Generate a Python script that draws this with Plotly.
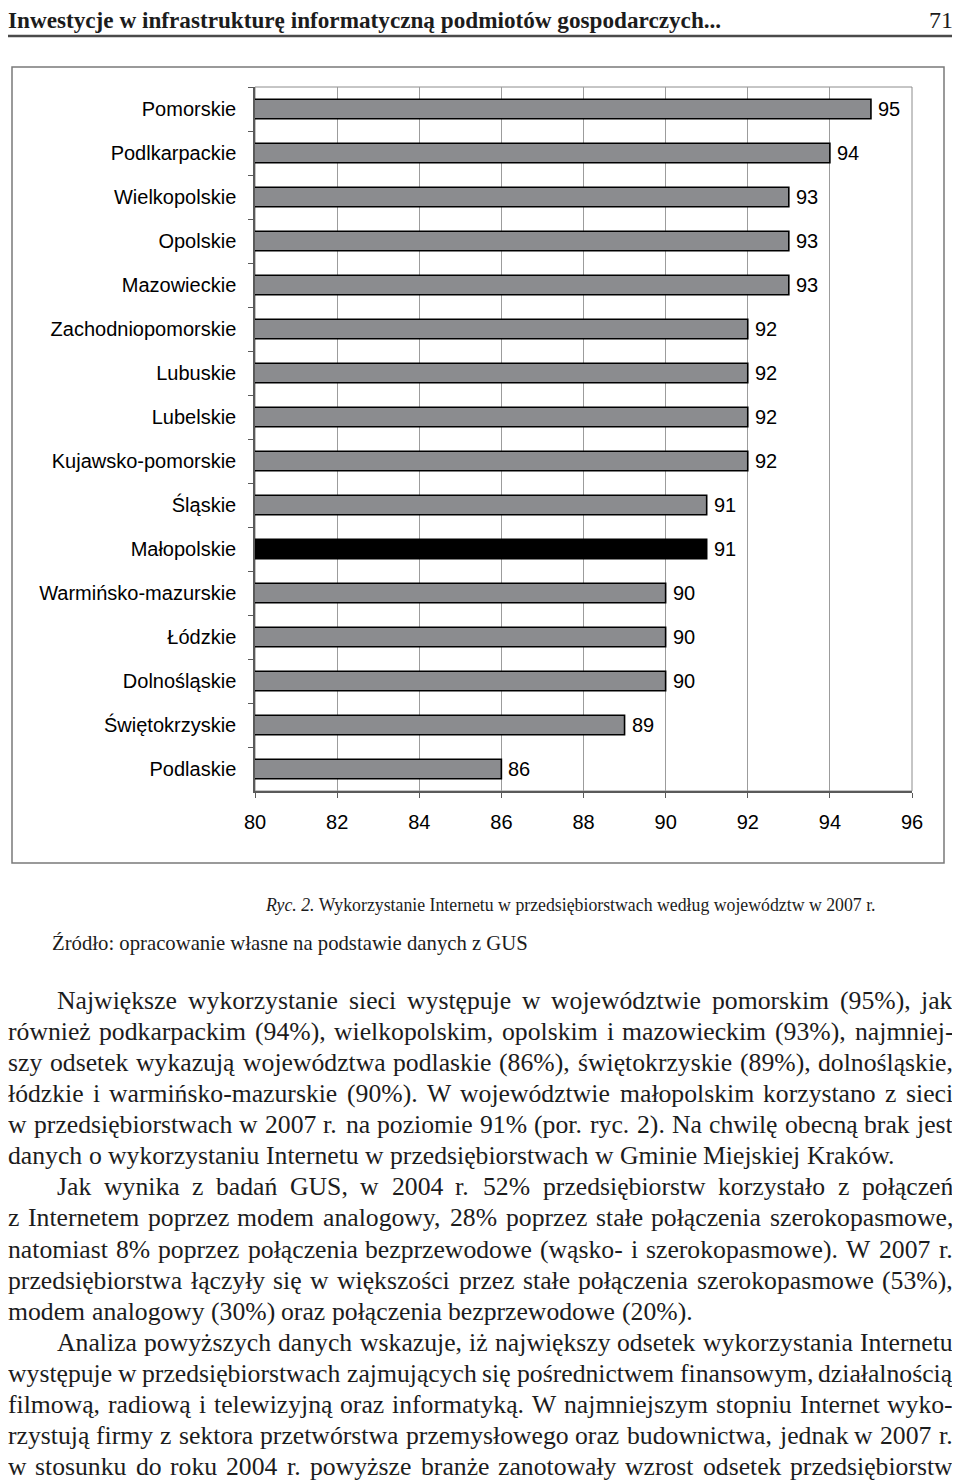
import plotly.graph_objects as go

# ---------------- data ----------------
regions = ["Pomorskie", "Podlkarpackie", "Wielkopolskie", "Opolskie", "Mazowieckie",
           "Zachodniopomorskie", "Lubuskie", "Lubelskie", "Kujawsko-pomorskie", "Śląskie",
           "Małopolskie", "Warmińsko-mazurskie", "Łódzkie", "Dolnośląskie",
           "Świętokrzyskie", "Podlaskie"]
values = [95, 94, 93, 93, 93, 92, 92, 92, 92, 91, 91, 90, 90, 90, 89, 86]
highlight = "Małopolskie"
x_ticks = [80, 82, 84, 86, 88, 90, 92, 94, 96]

header_text = "Inwestycje w infrastrukturę informatyczną podmiotów gospodarczych..."
page_number = "71"
caption_italic = "Ryc. 2."
caption_text = "Wykorzystanie Internetu w przedsiębiorstwach według województw w 2007 r."
source_text = "Źródło: opracowanie własne na podstawie danych z GUS"

# (text, indent, justified)
body_lines = [
    ("Największe wykorzystanie sieci występuje w województwie pomorskim (95%), jak", True, True),
    ("również podkarpackim (94%), wielkopolskim, opolskim i mazowieckim (93%), najmniej-", False, True),
    ("szy odsetek wykazują województwa podlaskie (86%), świętokrzyskie (89%), dolnośląskie,", False, True),
    ("łódzkie i warmińsko-mazurskie (90%). W województwie małopolskim korzystano z sieci", False, True),
    ("w przedsiębiorstwach w 2007 r. na poziomie 91% (por. ryc. 2). Na chwilę obecną brak jest", False, True),
    ("danych o wykorzystaniu Internetu w przedsiębiorstwach w Gminie Miejskiej Kraków.", False, False),
    ("Jak wynika z badań GUS, w 2004 r. 52% przedsiębiorstw korzystało z połączeń", True, True),
    ("z Internetem poprzez modem analogowy, 28% poprzez stałe połączenia szerokopasmowe,", False, True),
    ("natomiast 8% poprzez połączenia bezprzewodowe (wąsko- i szerokopasmowe). W 2007 r.", False, True),
    ("przedsiębiorstwa łączyły się w większości przez stałe połączenia szerokopasmowe (53%),", False, True),
    ("modem analogowy (30%) oraz połączenia bezprzewodowe (20%).", False, False),
    ("Analiza powyższych danych wskazuje, iż największy odsetek wykorzystania Internetu", True, True),
    ("występuje w przedsiębiorstwach zajmujących się pośrednictwem finansowym, działalnością", False, True),
    ("filmową, radiową i telewizyjną oraz informatyką. W najmniejszym stopniu Internet wyko-", False, True),
    ("rzystują firmy z sektora przetwórstwa przemysłowego oraz budownictwa, jednak w 2007 r.", False, True),
    ("w stosunku do roku 2004 r. powyższe branże zanotowały wzrost odsetek przedsiębiorstw", False, True),
]

# ---------------- page geometry ----------------
# the page body keeps its default 8px margin, so the figure is drawn 8px in from the window corner
OFF = 8
W, H = 960 - OFF, 1480 - OFF
def fx(x):
    return (x - OFF) / W
def fy(y):
    return 1 - (y - OFF) / H

SERIF = "Liberation Serif, Times New Roman, serif"
SANS = "Liberation Sans, Arial, sans-serif"
TEXT_COLOR = "#1c1c1c"
BAR_GRAY = "#8b8c8f"

# Times / Liberation Serif advance widths (per 1000 em)
_w = {' ': 250, '!': 333, '%': 833, '(': 333, ')': 333, ',': 250, '-': 333, '.': 250, ':': 278}
for d in "0123456789":
    _w[d] = 500
_w.update(dict(zip("ABCDEFGHIJKLMNOPQRSTUVWXYZ",
                   [722, 667, 667, 722, 611, 556, 722, 722, 333, 389, 722, 611, 889, 722, 722, 556, 722,
                    667, 556, 611, 722, 722, 944, 722, 722, 611])))
_w.update(dict(zip("abcdefghijklmnopqrstuvwxyz",
                   [444, 500, 444, 500, 444, 333, 500, 500, 278, 278, 500, 278, 778, 500, 500, 500, 500,
                    333, 389, 278, 500, 500, 722, 500, 500, 444])))
_w.update({'ą': 444, 'ć': 444, 'ę': 444, 'ł': 278, 'ń': 500, 'ó': 500, 'ś': 389, 'ź': 444, 'ż': 444,
           'Ą': 722, 'Ć': 667, 'Ę': 611, 'Ł': 611, 'Ń': 722, 'Ó': 722, 'Ś': 556, 'Ź': 611, 'Ż': 611})

def em_width(s):
    return sum(_w.get(c, 500) for c in s) / 1000.0

# ---------------- figure ----------------
fig = go.Figure()

bar_colors = ["#000000" if r == highlight else BAR_GRAY for r in regions]
fig.add_trace(go.Bar(
    x=values, y=regions, orientation="h",
    marker=dict(color=bar_colors, line=dict(color="#000000", width=1.6)),
    hoverinfo="x+y", showlegend=False,
))

# value labels at the bar ends
for r, v in zip(regions, values):
    fig.add_annotation(x=v, y=r, xref="x", yref="y", text=str(v), showarrow=False,
                       xanchor="left", yanchor="middle", xshift=7, borderpad=0, borderwidth=0,
                       font=dict(family=SANS, size=20, color="#000000"))

plot_x0, plot_x1 = 255, 912
plot_y0, plot_y1 = 87, 791

fig.update_layout(
    width=W, height=H,
    margin=dict(l=0, r=0, t=0, b=0, pad=0, autoexpand=False),
    paper_bgcolor="white", plot_bgcolor="white",
    bargap=0.56,
    xaxis=dict(domain=[fx(plot_x0), fx(plot_x1)], range=[80, 96], tickvals=x_ticks,
               automargin=False,
               showgrid=True, gridcolor="#9c9c9c", gridwidth=1,
               showline=True, linecolor="#5a5a5a", linewidth=1.5,
               ticks="outside", ticklen=5, tickcolor="#5a5a5a", tickwidth=1,
               ticklabelstandoff=7,
               tickfont=dict(family=SANS, size=20, color="#000000"), zeroline=False, fixedrange=True),
    yaxis=dict(domain=[fy(plot_y1), fy(plot_y0)], autorange="reversed", type="category",
               automargin=False,
               showgrid=False, showline=True, linecolor="#5a5a5a", linewidth=1.5,
               ticks="outside", ticklen=5, tickcolor="#5a5a5a", tickwidth=1, tickson="boundaries",
               ticklabelstandoff=13,
               tickfont=dict(family=SANS, size=20, color="#000000"), fixedrange=True),
)

# plot-area border (top / right) and outer frame of the figure
fig.add_shape(type="rect", xref="paper", yref="paper",
              x0=fx(plot_x0), x1=fx(plot_x1), y0=fy(plot_y1), y1=fy(plot_y0),
              line=dict(color="#8c8c8c", width=1), layer="below")
fig.add_shape(type="rect", xref="paper", yref="paper",
              x0=fx(12), x1=fx(944), y0=fy(863), y1=fy(67),
              line=dict(color="#7a7a7a", width=1.5), layer="below")

# ---------------- page header ----------------
fig.add_annotation(x=fx(8), y=fy(20.5), xref="paper", yref="paper", text="<b>" + header_text + "</b>",
                   showarrow=False, xanchor="left", yanchor="middle", borderpad=0, borderwidth=0,
                   font=dict(family=SERIF, size=23.2, color=TEXT_COLOR))
fig.add_annotation(x=fx(953), y=fy(20.5), xref="paper", yref="paper", text=page_number,
                   showarrow=False, xanchor="right", yanchor="middle", borderpad=0, borderwidth=0,
                   font=dict(family=SERIF, size=24, color=TEXT_COLOR))
fig.add_shape(type="line", xref="paper", yref="paper", x0=fx(8), x1=fx(955), y0=fy(36), y1=fy(36),
              line=dict(color="#4a4a4a", width=2.5))

# ---------------- caption & source ----------------
cap_full = caption_italic + " " + caption_text
cap_size = 615 / em_width(cap_full)
fig.add_annotation(x=fx(265), y=fy(905), xref="paper", yref="paper",
                   text="<i>" + caption_italic + "</i> " + caption_text,
                   showarrow=False, xanchor="left", yanchor="middle", borderpad=0, borderwidth=0,
                   font=dict(family=SERIF, size=cap_size, color=TEXT_COLOR))
src_size = 476 / em_width(source_text)
fig.add_annotation(x=fx(52), y=fy(943), xref="paper", yref="paper", text=source_text,
                   showarrow=False, xanchor="left", yanchor="middle", borderpad=0, borderwidth=0,
                   font=dict(family=SERIF, size=src_size, color=TEXT_COLOR))

# ---------------- body text (justified word by word) ----------------
BODY_SIZE = 25.7
LEFT, RIGHT, INDENT = 8, 953, 57
TOP, LEAD = 1000, 31.13

def add_word(x, y, word, size, anchor="left"):
    fig.add_annotation(x=fx(x), y=fy(y), xref="paper", yref="paper", text=word, showarrow=False,
                       xanchor=anchor, yanchor="middle", borderpad=0, borderwidth=0,
                       font=dict(family=SERIF, size=size, color=TEXT_COLOR))

for i, (line, indent, justify) in enumerate(body_lines):
    y = TOP + i * LEAD
    x0 = INDENT if indent else LEFT
    words = line.split(" ")
    size = BODY_SIZE
    widths = [em_width(w) * size for w in words]
    if justify and len(words) > 1:
        gap = (RIGHT - x0 - sum(widths)) / (len(words) - 1)
        if gap < 0.18 * size:
            size = (RIGHT - x0) / (sum(em_width(w) for w in words) + 0.18 * (len(words) - 1))
            widths = [em_width(w) * size for w in words]
            gap = (RIGHT - x0 - sum(widths)) / (len(words) - 1)
    else:
        gap = 0.25 * size
    x = x0
    for j, (w, wd) in enumerate(zip(words, widths)):
        if justify and j == len(words) - 1 and len(words) > 1:
            add_word(RIGHT, y, w, size, anchor="right")
        else:
            add_word(x, y, w, size)
        x += wd + gap

fig.write_html("out.html", config={"displayModeBar": False})
